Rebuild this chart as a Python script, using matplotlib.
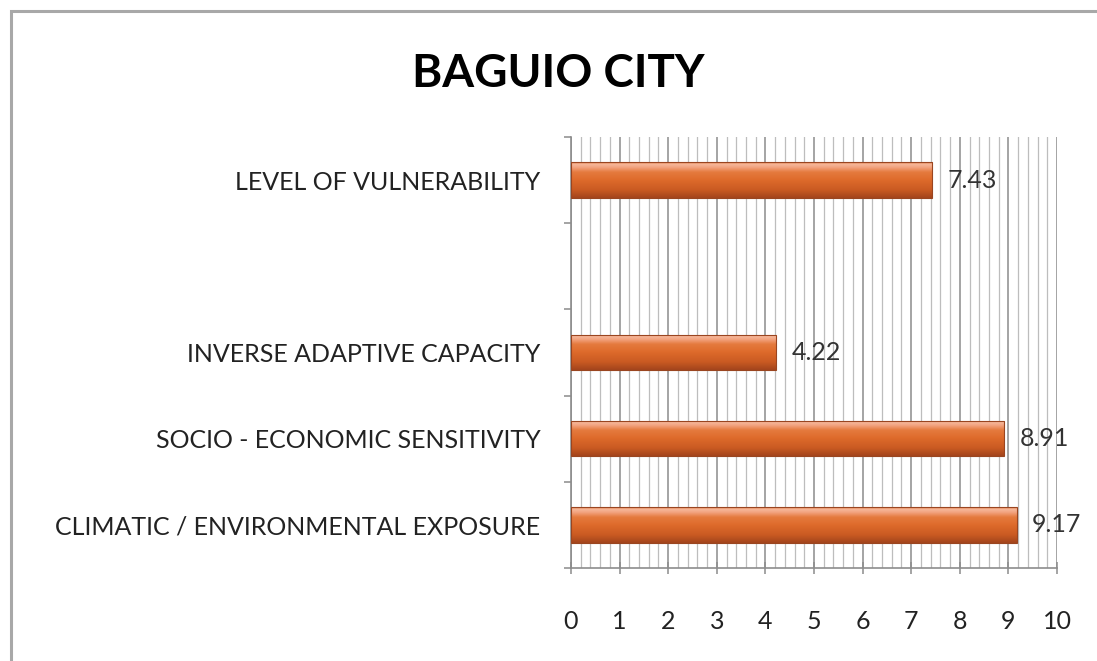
import numpy as np
import matplotlib
matplotlib.use("Agg")
import matplotlib.pyplot as plt
from matplotlib.patches import Rectangle
from matplotlib.colors import LinearSegmentedColormap

categories = ["CLIMATIC / ENVIRONMENTAL EXPOSURE", "SOCIO - ECONOMIC SENSITIVITY",
              "INVERSE ADAPTIVE CAPACITY", "", "LEVEL OF VULNERABILITY"]
values = [9.17, 8.91, 4.22, None, 7.43]
x_ticks = list(range(0, 11))
title = "BAGUIO CITY"

plt.rcParams['font.family'] = ['Lato', 'DejaVu Sans']

W, H = 1097, 661
fig = plt.figure(figsize=(W / 100, H / 100), dpi=100)
ax = fig.add_axes([571 / W, 1 - 568 / H, (1057 - 571) / W, (568 - 137) / H])

# frame around chart
fig.patches.append(Rectangle((11 / W, -0.05), 1.2, 1 - 11 / H + 0.05, transform=fig.transFigure,
                             fill=False, edgecolor="#a8a8a8", linewidth=2.2, zorder=0))

ax.set_xlim(0, 10)
ax.set_ylim(-0.5, len(categories) - 0.5)

# grid
ax.set_xticks(x_ticks)
ax.set_xticks(np.arange(0, 10.01, 0.2), minor=True)
ax.grid(axis="x", which="major", color="#8c8c8c", linewidth=1.1, zorder=0)
ax.grid(axis="x", which="minor", color="#bdbdbd", linewidth=0.9, zorder=0)
ax.set_axisbelow(True)

cmap = LinearSegmentedColormap.from_list(
    "bar", [(0.0, "#a2441c"), (0.22, "#c95a22"), (0.5, "#de6a2b"),
            (0.72, "#e57a3e"), (0.86, "#f3a582"), (0.94, "#f6b89a"), (1.0, "#e8804c")])
grad = np.linspace(0, 1, 256).reshape(-1, 1)
h = 0.41
for i, v in enumerate(values):
    if v is None:
        continue
    bar = ax.barh(i, v, height=h, color="none", edgecolor="#9a4520", linewidth=0.8, zorder=3)[0]
    im = ax.imshow(grad, cmap=cmap, aspect="auto", origin="lower",
                   extent=(0, v, i - h / 2, i + h / 2), zorder=2)
    im.set_clip_path(bar)
    ax.text(v + 0.32, i, f"{v:.2f}", va="center", ha="left", fontsize=18, color="#333333")

ax.set_xlim(0, 10)
ax.set_ylim(-0.5, len(categories) - 0.5)

ax.set_yticks(range(len(categories)))
ax.set_yticklabels(categories, fontsize=18, color="#222222")
ax.set_yticks(np.arange(-0.5, len(categories), 1.0), minor=True)
ax.tick_params(axis="y", which="major", length=0, pad=22)
ax.tick_params(axis="y", which="minor", length=5, color="#8c8c8c", width=1.1, direction="out")
ax.tick_params(axis="x", which="major", length=9, color="#8c8c8c", width=1.1,
               direction="inout", labelsize=18, labelcolor="#222222", pad=26)
ax.tick_params(axis="x", which="minor", length=0)

for s in ["top", "right"]:
    ax.spines[s].set_visible(False)
for s in ["left", "bottom"]:
    ax.spines[s].set_color("#8c8c8c")
    ax.spines[s].set_linewidth(1.2)

fig.text(558 / W, 1 - 74 / H, title, ha="center", va="center", fontsize=33,
         fontweight="bold", color="#000000")

fig.savefig("out.png", dpi=100, facecolor="white")
